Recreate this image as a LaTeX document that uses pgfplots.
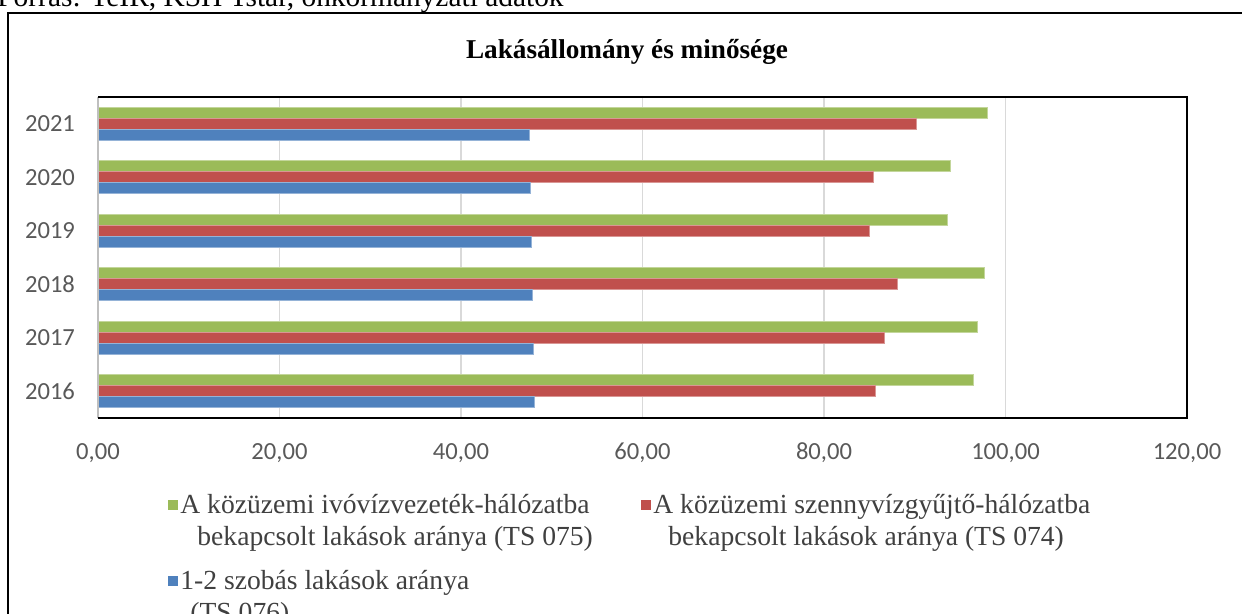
\documentclass[border=0pt]{standalone}
\usepackage{pgfplots}
\pgfplotsset{compat=1.18}
\usepackage{fontspec}
\setmainfont{Liberation Serif}
\newfontfamily\carlito{Carlito}

\definecolor{grn}{HTML}{9BBB59}
\definecolor{rd}{HTML}{C0504D}
\definecolor{blu}{HTML}{4F81BD}
\definecolor{txt}{HTML}{595959}
\definecolor{lgd}{HTML}{404040}

\begin{document}
\begin{tikzpicture}[x=0.5pt,y=-0.5pt]
\useasboundingbox (0,0) rectangle (1242,614);
\clip (0,0) rectangle (1242,614);

% source line (mostly cut off at the top) and the chart frame
\node[anchor=base west, inner sep=0pt, font=\fontsize{14.7}{17}\selectfont] at (-3,7)
  {Forrás: TeIR, KSH Tstar, önkormányzati adatok};
\draw[line width=0.9pt] (8,13) rectangle (1270,650);

\node[anchor=base, inner sep=0pt, font=\bfseries\fontsize{13.6}{16}\selectfont] at (627,59)
  {Lakásállomány és minősége};

\begin{axis}[
    at={(49pt,-48.5pt)}, anchor=north west,
    scale only axis,
    width=544.5pt, height=160.5pt,
    xbar, bar width=5.5pt,
    xmin=0, xmax=120,
    ymin=2015.5, ymax=2021.5,
    xtick={0,20,...,120},
    ytick={2016,2017,2018,2019,2020,2021},
    /pgf/number format/assume math mode=true,
    tick label style={font=\carlito\fontsize{12.3}{14}\selectfont, text=txt},
    xticklabel style={yshift=-9pt,
        /pgf/number format/.cd, fixed, fixed zerofill, precision=2, use comma},
    yticklabel style={xshift=-8pt, /pgf/number format/1000 sep={}},
    major tick length=0pt,
    xmajorgrids,
    grid style={draw=black!15, line width=0.9pt},
    axis line style={draw=none},
    clip=false,
]
\addplot[fill=grn, draw=grn!60!white, line width=0.4pt, bar shift=5.5pt] coordinates {
    (96.5,2016) (96.9,2017) (97.7,2018) (93.6,2019) (93.9,2020) (98.0,2021)};
\addplot[fill=rd, draw=rd!60!white, line width=0.4pt, bar shift=0pt] coordinates {
    (85.7,2016) (86.7,2017) (88.1,2018) (85.0,2019) (85.4,2020) (90.2,2021)};
\addplot[fill=blu, draw=blu!60!white, line width=0.4pt, bar shift=-5.5pt] coordinates {
    (48.1,2016) (48.0,2017) (47.9,2018) (47.8,2019) (47.7,2020) (47.5,2021)};
\draw[black!25, line width=0.8pt] (rel axis cs:0,0) -- (rel axis cs:0,1);
\draw[black, line width=1pt] (rel axis cs:0,1) -- (rel axis cs:1,1)
    -- (rel axis cs:1,0) -- (rel axis cs:0,0);
\end{axis}

% legend
\begin{scope}[every node/.style={anchor=base west, inner sep=0pt, text=lgd,
    font=\fontsize{13.8}{16}\selectfont}]
\fill[grn] (168,500) rectangle (178,510);
\node at (180,513) {A közüzemi ivóvízvezeték-hálózatba};
\node at (197,545) {bekapcsolt lakások aránya (TS 075)};
\fill[rd] (641,500) rectangle (651,510);
\node at (653,513) {A közüzemi szennyvízgyűjtő-hálózatba};
\node at (668,545) {bekapcsolt lakások aránya (TS 074)};
\fill[blu] (168,576) rectangle (178,586);
\node at (180,589) {1-2 szobás lakások aránya};
\node at (190,621) {(TS 076)};
\end{scope}
\end{tikzpicture}
\end{document}
